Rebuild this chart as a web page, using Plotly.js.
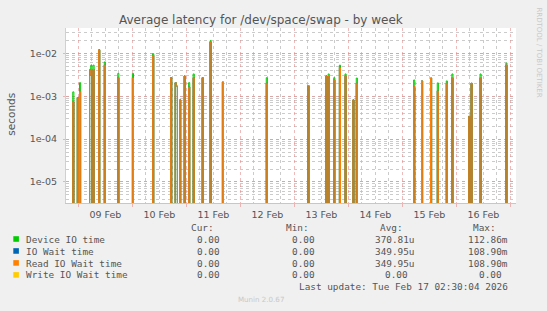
<!DOCTYPE html>
<html>
<head>
<meta charset="utf-8">
<script src="https://cdn.plot.ly/plotly-3.0.1.min.js"></script>
<style>
html,body{margin:0;padding:0;background:#f0f0f0;}
#chart{width:547px;height:311px;}
</style>
</head>
<body>
<div id="chart"></div>
<script>
// ---- data (30-minute averages, everything else is 0) ----
const rangeStart = '2026-02-08 18:30';
const rangeEnd   = '2026-02-17 02:30';

const spikeTimes = [
  '2026-02-08 21:30','2026-02-08 23:30','2026-02-09 00:30','2026-02-09 05:00','2026-02-09 05:30',
  '2026-02-09 06:30','2026-02-09 09:00','2026-02-09 11:30','2026-02-09 17:30','2026-02-10 00:00',
  '2026-02-10 09:00','2026-02-10 17:00','2026-02-10 19:00','2026-02-10 19:30','2026-02-10 21:00',
  '2026-02-10 23:00','2026-02-11 01:00','2026-02-11 03:00','2026-02-11 07:00','2026-02-11 10:30',
  '2026-02-11 16:00','2026-02-12 11:30','2026-02-13 06:00','2026-02-13 14:00','2026-02-13 15:00',
  '2026-02-13 17:30','2026-02-13 20:00','2026-02-13 22:30','2026-02-14 02:00','2026-02-14 03:30',
  '2026-02-15 05:00','2026-02-15 08:30','2026-02-15 12:30','2026-02-15 15:30','2026-02-15 19:30',
  '2026-02-15 22:00','2026-02-16 05:30','2026-02-16 06:30','2026-02-16 10:30','2026-02-16 22:00'
];
const deviceIO = [
  1.26e-3, 9.3e-4, 2.07e-3, 4.25e-3, 5.3e-3,
  5.3e-3, 1.22e-2, 6.3e-3, 3.4e-3, 3.4e-3,
  9.8e-3, 2.7e-3, 2.07e-3, 1.73e-3, 8.2e-4,
  2.96e-3, 2.07e-3, 3.3e-3, 2.7e-3, 1.96e-2,
  2.14e-3, 2.7e-3, 1.77e-3, 2.96e-3, 3.3e-3,
  2.7e-3, 5.3e-3, 3.3e-3, 8.2e-4, 2.65e-3,
  2.39e-3, 2.27e-3, 2.65e-3, 2.04e-3, 2.27e-3,
  3.3e-3, 3.4e-4, 2.0e-3, 3.3e-3, 5.9e-3
];
const readIOWait = [
  7.4e-4, 9.3e-4, 1.3e-3, 3.08e-3, 4.2e-3,
  4.2e-3, 1.19e-2, 5.3e-3, 2.7e-3, 2.7e-3,
  8.97e-3, 2.7e-3, 2.07e-3, 1.73e-3, 8.2e-4,
  2.96e-3, 1.64e-3, 2.7e-3, 2.7e-3, 1.83e-2,
  2.14e-3, 2.0e-3, 1.77e-3, 2.96e-3, 2.9e-3,
  2.4e-3, 4.7e-3, 2.96e-3, 8.2e-4, 2.0e-3,
  1.68e-3, 2.27e-3, 2.65e-3, 1.33e-3, 2.0e-3,
  2.7e-3, 3.4e-4, 2.0e-3, 2.7e-3, 5.3e-3
];
const ioWait = readIOWait.slice();           // identical to read wait (no writes)
const writeIOWait = spikeTimes.map(() => 0); // always 0

const seriesNames = ['Device IO time','IO Wait time','Read IO Wait time','Write IO Wait time'];
const seriesCur = ['0.00','0.00','0.00','0.00'];
const seriesMin = ['0.00','0.00','0.00','0.00'];
const seriesAvg = ['370.81u','349.95u','349.95u','0.00'];
const seriesMax = ['112.86m','108.90m','108.90m','0.00'];
const lastUpdate = 'Last update: Tue Feb 17 02:30:04 2026';
const yTickVals = [1e-5, 1e-4, 1e-3, 1e-2];
const yTickText = ['1e-05','1e-04','1e-03','1e-02'];

// ---- build the 30-minute time base ----
const STEP = 30*60*1000;
function parseT(s){ const [d,t]=s.split(' '); const [Y,M,D]=d.split('-').map(Number); const [h,m]=t.split(':').map(Number); return Date.UTC(Y,M-1,D,h,m); }
function fmtT(ms){ return new Date(ms).toISOString().slice(0,16).replace('T',' '); }
const times = [];
for (let ms = parseT(rangeStart) - STEP; ms <= parseT(rangeEnd) + STEP; ms += STEP) times.push(fmtT(ms));
const FLOOR = 1e-8; // zero cannot be shown on a log axis: draw it below the visible range
function fullSeries(vals){
  const m = {}; spikeTimes.forEach((t,i)=>{ m[t]=vals[i]; });
  return times.map(t => { const v = m[t] || 0; return v > 0 ? v : FLOOR; });
}

const colors = ['#00cc00','#0066b3','#ff8000','#ffcc00'];
const seriesVals = [deviceIO, ioWait, readIOWait, writeIOWait];
const traces = seriesVals.map((vals,i)=>({
  type:'scatter', mode:'lines', x: times, y: fullSeries(vals),
  line:{color:colors[i], width:1, shape:'hv'}, name: seriesNames[i], hoverinfo:'skip'
}));

// ---- layout geometry (pixels) ----
const W=547, H=311, L=66, R=516, T=28, B=203.5;
const px = x => (x - L)/(R - L);
const py = y => (B - y)/(B - T);
const mono = 'DejaVu Sans Mono, monospace';
const sans = 'DejaVu Sans, sans-serif';
const txtCol = '#555555';

const annotations = [];
const shapes = [];
function ann(text, x, y, xanchor, size, color, family, extra){
  annotations.push(Object.assign({text, x:px(x), y:py(y), xref:'paper', yref:'paper',
    xanchor, yanchor:'middle', showarrow:false, borderpad:0,
    font:{family, size, color}}, extra||{}));
}
// title and side texts
ann('Average latency for /dev/space/swap - by week', 260.8, 20, 'center', 12, txtCol, sans);
ann('seconds', 11, 115, 'center', 10.5, txtCol, sans, {textangle:-90});
ann('RRDTOOL / TOBI OETIKER', 539.5, 52, 'center', 7, '#c8c8c8', sans, {textangle:90});
ann('Munin 2.0.67', 260.7, 300, 'center', 7.1, '#c8c8c8', sans);
// legend
const legendTop = 239.7, rowH = 12;
ann('Cur:', 215, 228.3, 'right', 9.4, txtCol, mono);
ann('Min:', 310, 228.3, 'right', 9.4, txtCol, mono);
ann('Avg:', 404, 228.3, 'right', 9.4, txtCol, mono);
ann('Max:', 497.3, 228.3, 'right', 9.4, txtCol, mono);
seriesNames.forEach((n,i)=>{
  const y = legendTop + i*rowH;
  shapes.push({type:'rect', xref:'paper', yref:'paper', x0:px(13.3), x1:px(18.9), y0:py(y-2.9), y1:py(y+2.7),
    fillcolor:colors[i], line:{width:0}, layer:'above'});
  ann(n, 25, y, 'left', 9.4, txtCol, mono);
  const shortW = seriesAvg[i].length < 6 ? 1 : 0;
  ann(seriesCur[i], 221, y, 'right', 9.4, txtCol, mono);
  ann(seriesMin[i], 315.7, y, 'right', 9.4, txtCol, mono);
  ann(seriesAvg[i], shortW ? 409.3 : 415.7, y, 'right', 9.4, txtCol, mono);
  ann(seriesMax[i], shortW ? 503.3 : 509, y, 'right', 9.4, txtCol, mono);
});
ann(lastUpdate, 509, 287.3, 'right', 9.4, txtCol, mono);

const gridMinor = 'rgba(190,190,190,0.8)';
const gridMajor = 'rgba(230,140,140,0.6)';

const layout = {
  width: W, height: H, autosize:false,
  paper_bgcolor:'#f0f0f0', plot_bgcolor:'#ffffff',
  margin:{l:L, r:W-R, t:T, b:H-B, pad:0},
  showlegend:false,
  xaxis:{
    type:'date', range:[rangeStart, rangeEnd],
    tick0:'2026-02-09 00:00', dtick:86400000, ticklabelmode:'period', tickformat:'%d %b',
    showgrid:true, gridcolor:gridMajor, griddash:'dot', gridwidth:1,
    ticks:'outside', ticklen:3, tickcolor:gridMajor,
    minor:{dtick:6*3600000, showgrid:true, gridcolor:gridMinor, griddash:'dot', ticks:'', gridwidth:1},
    showline:true, linecolor:'#d9c88f', linewidth:1,
    tickfont:{family:sans, size:9.5, color:txtCol},
    zeroline:false, fixedrange:true
  },
  yaxis:{
    type:'log', range:[-5.49, -1.41],
    tickvals: yTickVals, ticktext: yTickText,
    showgrid:true, gridcolor:gridMajor, griddash:'dot', gridwidth:1,
    minor:{dtick:'D1', showgrid:true, gridcolor:gridMinor, griddash:'dot', gridwidth:1},
    ticks:'outside', ticklen:2, tickcolor:gridMajor, ticklabelstandoff:4,
    showline:true, linecolor:'#c8d0e6', linewidth:1,
    tickfont:{family:sans, size:9.5, color:txtCol},
    zeroline:false, fixedrange:true
  },
  annotations, shapes
};

Plotly.newPlot('chart', traces, layout, {staticPlot:true, displayModeBar:false});
</script>
</body>
</html>
